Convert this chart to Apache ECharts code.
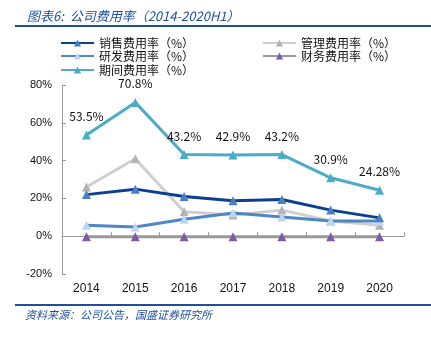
<!DOCTYPE html>
<html>
<head>
<meta charset="utf-8">
<script src="https://cdn.jsdelivr.net/npm/echarts@6/dist/echarts.min.js"></script>
<style>
  html, body { margin: 0; padding: 0; background: #fff; }
  #chart { width: 431px; height: 337px; }
</style>
</head>
<body>
<div id="chart"></div>
<script>
// Years on the category axis
const years = ['2014', '2015', '2016', '2017', '2018', '2019', '2020'];

// Expense ratios, in percent
const salesRatio = [22.0, 24.9, 21.0, 18.7, 19.4, 13.8, 9.7];
const adminRatio = [26.0, 41.0, 12.9, 11.2, 13.8, 8.1, 5.8];
const rdRatio = [5.8, 4.9, 9.0, 12.3, 10.2, 8.1, 8.1];
const financeRatio = [-0.3, -0.3, -0.3, -0.3, -0.3, -0.3, -0.3];
const periodRatio = [53.5, 70.8, 43.2, 42.9, 43.2, 30.9, 24.28];

// Value axis ticks
const yMin = -20, yMax = 80, yStep = 20;

const names = ['销售费用率（%）', '管理费用率（%）', '研发费用率（%）', '财务费用率（%）', '期间费用率（%）'];

const cjk = '"Noto Sans CJK SC", "Noto Sans", sans-serif';
const latin = '"Liberation Sans", Arial, sans-serif';

function lineSeries(name, data, lineColor, markColor, z) {
  return {
    name: name,
    type: 'line',
    data: data,
    symbol: 'triangle',
    symbolSize: 9,
    z: z,
    lineStyle: { color: lineColor, width: 3 },
    itemStyle: { color: markColor, borderWidth: 0 },
    emphasis: { disabled: true }
  };
}

const chart = echarts.init(document.getElementById('chart'));

function legendAt(name, left, top) {
  return {
    data: [name],
    left: left,
    top: top,
    itemWidth: 33,
    itemHeight: 9,
    itemGap: 4,
    padding: 0,
    textStyle: { fontFamily: cjk, fontSize: 12, color: '#111' }
  };
}

const period = lineSeries(names[4], periodRatio, '#4bacc6', '#4bacc6', 6);
period.label = {
  show: true,
  position: 'top',
  distance: 8,
  fontFamily: cjk,
  fontSize: 12,
  color: '#111',
  formatter: p => p.value + '%'
};

chart.setOption({
  animation: false,
  title: {
    text: '图表6:  公司费用率（2014-2020H1）',
    left: 22,
    top: 5,
    textStyle: { fontFamily: cjk, fontSize: 13, fontStyle: 'italic', fontWeight: 'normal', color: '#1f4e9a' }
  },
  legend: [
    legendAt(names[0], 60, 37),
    legendAt(names[1], 262, 37),
    legendAt(names[2], 60, 50),
    legendAt(names[3], 262, 50),
    legendAt(names[4], 60, 64)
  ],
  grid: { left: 62, right: 27, top: 85, bottom: 63 },
  xAxis: {
    type: 'category',
    data: years,
    boundaryGap: true,
    axisLine: { onZero: true, lineStyle: { color: '#999', width: 1 } },
    axisTick: { show: true, inside: true, length: 4, alignWithLabel: false, lineStyle: { color: '#999' } },
    axisLabel: { fontFamily: latin, fontSize: 12, color: '#111', margin: 9 }
  },
  yAxis: {
    type: 'value',
    min: yMin,
    max: yMax,
    interval: yStep,
    splitLine: { show: false },
    axisLine: { show: true, lineStyle: { color: '#999', width: 1 } },
    axisTick: { show: true, inside: true, length: 4, lineStyle: { color: '#999' } },
    axisLabel: { fontFamily: latin, fontSize: 11, color: '#111', margin: 10, formatter: v => v + '%' }
  },
  series: [
    lineSeries(names[0], salesRatio, '#0b3f92', '#4a7fc1', 4),
    lineSeries(names[1], adminRatio, '#cfcfcf', '#b3b3b3', 3),
    lineSeries(names[2], rdRatio, '#4f86c6', '#bcd5f0', 3),
    lineSeries(names[3], financeRatio, '#999999', '#7b5ea7', 2),
    period
  ],
  graphic: [
    { type: 'line', shape: { x1: 15, y1: 26, x2: 431, y2: 26 }, style: { stroke: '#1f4e9a', lineWidth: 2 } },
    { type: 'line', shape: { x1: 15, y1: 305, x2: 431, y2: 305 }, style: { stroke: '#1f4e9a', lineWidth: 2 } },
    {
      type: 'text', left: 25, top: 309,
      style: { text: '资料来源：公司公告，国盛证券研究所', font: 'italic 11px "Noto Sans CJK SC", sans-serif', fill: '#1f4e9a' }
    }
  ]
});
</script>
</body>
</html>
